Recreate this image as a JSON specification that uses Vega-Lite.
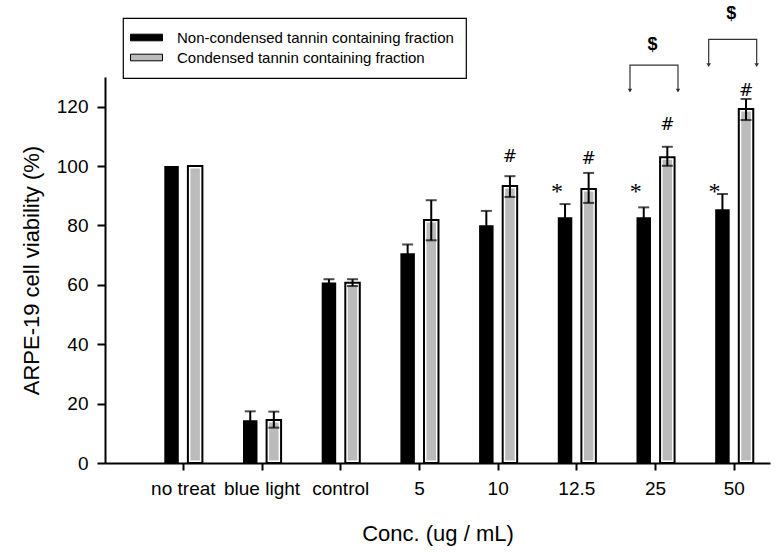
{
  "$schema": "https://vega.github.io/schema/vega-lite/v6.json",
  "autosize": {"type": "none"},
  "padding": {"left": 105, "top": 77, "right": 6, "bottom": 90},
  "width": 665,
  "height": 386,
  "config": {
    "font": "Liberation Sans",
    "view": {"stroke": null},
    "axis": {"grid": false, "domainColor": "black", "tickColor": "black", "labelColor": "black", "titleColor": "black", "titleFontWeight": "normal", "domainWidth": 2, "tickWidth": 2, "labelFont": "Liberation Sans", "titleFont": "Liberation Sans"}
  },
  "datasets": {
    "bars": [
      {"conc": "no treat", "group": "Non-condensed tannin containing fraction", "v": 100, "lo": null, "hi": null},
      {"conc": "no treat", "group": "Condensed tannin containing fraction", "v": 100, "lo": null, "hi": null},
      {"conc": "blue light", "group": "Non-condensed tannin containing fraction", "v": 14.4, "lo": 11.4, "hi": 17.4},
      {"conc": "blue light", "group": "Condensed tannin containing fraction", "v": 14.5, "lo": 11.9, "hi": 17.3},
      {"conc": "control", "group": "Non-condensed tannin containing fraction", "v": 60.8, "lo": 59.6, "hi": 61.9},
      {"conc": "control", "group": "Condensed tannin containing fraction", "v": 60.7, "lo": 59.6, "hi": 61.9},
      {"conc": "5", "group": "Non-condensed tannin containing fraction", "v": 70.6, "lo": 67.6, "hi": 73.6},
      {"conc": "5", "group": "Condensed tannin containing fraction", "v": 81.8, "lo": 75.0, "hi": 88.5},
      {"conc": "10", "group": "Non-condensed tannin containing fraction", "v": 80.1, "lo": 75.3, "hi": 84.9},
      {"conc": "10", "group": "Condensed tannin containing fraction", "v": 93.3, "lo": 89.6, "hi": 96.6},
      {"conc": "12.5", "group": "Non-condensed tannin containing fraction", "v": 82.8, "lo": 78.4, "hi": 87.2},
      {"conc": "12.5", "group": "Condensed tannin containing fraction", "v": 92.3, "lo": 87.6, "hi": 97.7},
      {"conc": "25", "group": "Non-condensed tannin containing fraction", "v": 82.8, "lo": 79.5, "hi": 86.1},
      {"conc": "25", "group": "Condensed tannin containing fraction", "v": 103.0, "lo": 100.1, "hi": 106.5},
      {"conc": "50", "group": "Non-condensed tannin containing fraction", "v": 85.5, "lo": 80.4, "hi": 90.6},
      {"conc": "50", "group": "Condensed tannin containing fraction", "v": 119.2, "lo": 115.5, "hi": 122.6}
    ],
    "hash": [
      {"conc": "10", "group": "Condensed tannin containing fraction", "label": "#", "y": 102.9},
      {"conc": "12.5", "group": "Condensed tannin containing fraction", "label": "#", "y": 102.4},
      {"conc": "25", "group": "Condensed tannin containing fraction", "label": "#", "y": 114.0},
      {"conc": "50", "group": "Condensed tannin containing fraction", "label": "#", "y": 125.4}
    ],
    "star": [
      {"conc": "12.5", "group": "Non-condensed tannin containing fraction", "label": "*", "y": 89.0},
      {"conc": "25", "group": "Non-condensed tannin containing fraction", "label": "*", "y": 89.0},
      {"conc": "50", "group": "Non-condensed tannin containing fraction", "label": "*", "y": 89.0}
    ],
    "dollar": [
      {"conc": "25", "label": "$", "y": 140.8},
      {"conc": "50", "label": "$", "y": 151.2}
    ],
    "brackets": [
      {"conc": "25", "side": "L", "ord": 1, "y": 125.4},
      {"conc": "25", "side": "L", "ord": 2, "y": 134.0},
      {"conc": "25", "side": "R", "ord": 3, "y": 134.0},
      {"conc": "25", "side": "R", "ord": 4, "y": 125.4},
      {"conc": "50", "side": "L", "ord": 1, "y": 134.0},
      {"conc": "50", "side": "L", "ord": 2, "y": 142.7},
      {"conc": "50", "side": "R", "ord": 3, "y": 142.7},
      {"conc": "50", "side": "R", "ord": 4, "y": 134.0}
    ]
  },
  "resolve": {"scale": {"xOffset": "independent"}},
  "layer": [
    {
      "layer": [
        {
          "data": {"name": "bars"},
          "mark": {"type": "bar"},
          "encoding": {
            "x": {"field": "conc", "type": "nominal",
              "scale": {"domain": ["no treat", "blue light", "control", "5", "10", "12.5", "25", "50"], "paddingInner": 0.516, "paddingOuter": 0.483, "align": 0.78, "round": false},
              "axis": {"title": "Conc. (ug / mL)", "labelAngle": 0, "labelFontSize": 19, "titleFontSize": 22, "tickSize": 7, "labelPadding": 9, "titlePadding": 25, "zindex": 1}},
            "xOffset": {"field": "group", "type": "nominal", "scale": {"domain": ["Non-condensed tannin containing fraction", "Condensed tannin containing fraction"], "paddingInner": 0.386, "paddingOuter": 0}},
            "y": {"field": "v", "type": "quantitative",
              "scale": {"domain": [0, 130], "nice": false},
              "axis": {"title": "ARPE-19 cell viability (%)", "values": [0, 20, 40, 60, 80, 100, 120], "labelFontSize": 19, "titleFontSize": 22, "tickSize": 8, "labelPadding": 9, "titlePadding": 13, "zindex": 1}},
            "color": {"field": "group", "type": "nominal",
              "scale": {"domain": ["Non-condensed tannin containing fraction", "Condensed tannin containing fraction"], "range": ["#000000", "#bbbbbb"]},
              "legend": {"title": null, "orient": "none", "legendX": 18, "legendY": -59, "direction": "vertical", "strokeColor": "black", "fillColor": "white", "padding": 12, "labelFontSize": 15, "labelColor": "black", "labelFont": "Liberation Sans", "labelOffset": 27, "labelLimit": 400, "symbolType": "M-2.4,-0.66H4V0.66H-2.4Z", "symbolSize": 100, "symbolStrokeColor": "black", "symbolStrokeWidth": 1, "rowPadding": 4,
                "encode": {"symbols": {"update": {"stroke": {"value": "black"}, "strokeWidth": {"value": 1}}}, "legend": {"update": {"strokeWidth": {"value": 1.2}}}}}}
          }
        },
        {
          "data": {"name": "bars"},
          "transform": [{"filter": "datum.group == 'Condensed tannin containing fraction'"}],
          "mark": {"type": "bar", "fill": "transparent", "stroke": "white", "strokeWidth": 5},
          "encoding": {
            "x": {"field": "conc", "type": "nominal"},
            "xOffset": {"field": "group", "type": "nominal"},
            "y": {"field": "v", "type": "quantitative"}
          }
        },
        {
          "data": {"name": "bars"},
          "transform": [{"filter": "datum.group == 'Condensed tannin containing fraction'"}],
          "mark": {"type": "bar", "fill": "transparent", "stroke": "black", "strokeWidth": 2},
          "encoding": {
            "x": {"field": "conc", "type": "nominal"},
            "xOffset": {"field": "group", "type": "nominal"},
            "y": {"field": "v", "type": "quantitative"}
          }
        },
        {
          "data": {"name": "bars"},
          "transform": [{"filter": "datum.lo != null"}],
          "mark": {"type": "rule", "color": "black", "strokeWidth": 2},
          "encoding": {
            "x": {"field": "conc", "type": "nominal"},
            "xOffset": {"field": "group", "type": "nominal"},
            "y": {"field": "lo", "type": "quantitative"},
            "y2": {"field": "hi"}
          }
        },
        {
          "data": {"name": "bars"},
          "transform": [{"filter": "datum.lo != null"}],
          "mark": {"type": "tick", "color": "black", "size": 11, "thickness": 2, "orient": "horizontal"},
          "encoding": {
            "x": {"field": "conc", "type": "nominal"},
            "xOffset": {"field": "group", "type": "nominal"},
            "y": {"field": "hi", "type": "quantitative"}
          }
        },
        {
          "data": {"name": "bars"},
          "transform": [{"filter": "datum.lo != null"}],
          "mark": {"type": "tick", "color": "black", "size": 11, "thickness": 2, "orient": "horizontal"},
          "encoding": {
            "x": {"field": "conc", "type": "nominal"},
            "xOffset": {"field": "group", "type": "nominal"},
            "y": {"field": "lo", "type": "quantitative"}
          }
        },
        {
          "data": {"name": "hash"},
          "mark": {"type": "text", "font": "DejaVu Sans", "fontSize": 17, "baseline": "middle", "color": "black"},
          "encoding": {
            "x": {"field": "conc", "type": "nominal"},
            "xOffset": {"field": "group", "type": "nominal"},
            "y": {"field": "y", "type": "quantitative"},
            "text": {"field": "label"}
          }
        },
        {
          "data": {"name": "star"},
          "mark": {"type": "text", "font": "Liberation Serif", "fontSize": 24, "baseline": "alphabetic", "dx": -8, "color": "black"},
          "encoding": {
            "x": {"field": "conc", "type": "nominal"},
            "xOffset": {"field": "group", "type": "nominal"},
            "y": {"field": "y", "type": "quantitative"},
            "text": {"field": "label"}
          }
        },
        {
          "data": {"name": "dollar"},
          "mark": {"type": "text", "font": "Liberation Sans", "fontSize": 18, "fontWeight": "bold", "baseline": "middle", "color": "black", "dx": -3},
          "encoding": {
            "x": {"field": "conc", "type": "nominal"},
            "y": {"field": "y", "type": "quantitative"},
            "text": {"field": "label"}
          }
        }
      ]
    },
    {
      "data": {"name": "brackets"},
      "layer": [
        {
          "mark": {"type": "line", "color": "#333333", "strokeWidth": 1.2},
          "encoding": {
            "x": {"field": "conc", "type": "nominal", "scale": {"domain": ["no treat", "blue light", "control", "5", "10", "12.5", "25", "50"]}},
            "xOffset": {"field": "side", "type": "nominal", "scale": {"type": "point", "domain": ["L", "R"], "range": [-6.5, 41.5], "padding": 0}},
            "y": {"field": "y", "type": "quantitative", "scale": {"domain": [0, 130], "nice": false}},
            "detail": {"field": "conc"},
            "order": {"field": "ord"}
          }
        },
        {
          "transform": [{"filter": "datum.ord == 1 || datum.ord == 4"}],
          "mark": {"type": "point", "shape": "triangle-down", "filled": true, "color": "#333333", "size": 20, "opacity": 1},
          "encoding": {
            "x": {"field": "conc", "type": "nominal"},
            "xOffset": {"field": "side", "type": "nominal"},
            "y": {"field": "y", "type": "quantitative"}
          }
        }
      ]
    }
  ]
}
